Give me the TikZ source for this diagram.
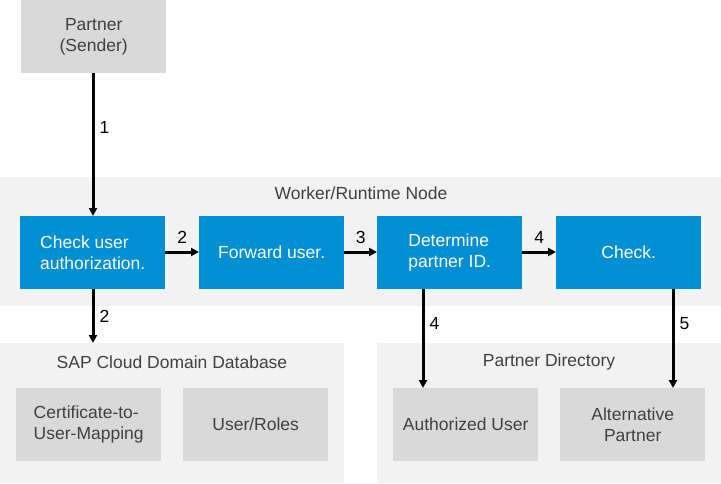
\documentclass[tikz,border=0pt]{standalone}
\usepackage{fontspec}
\setmainfont{Liberation Sans}
\usetikzlibrary{arrows.meta}
\definecolor{sapblue}{HTML}{008FD3}
\definecolor{boxgray}{HTML}{D9D9D9}
\definecolor{panelgray}{HTML}{F2F2F2}
\definecolor{txtgray}{HTML}{404040}
\begin{document}
\begin{tikzpicture}[x=1pt,y=-1pt,
  panel/.style={fill=panelgray,draw=none,inner sep=0pt,anchor=north west},
  graybox/.style={fill=boxgray,draw=none,minimum width=145pt,minimum height=73pt,inner sep=0pt,anchor=north west,text=txtgray,font=\fontsize{17.5}{21.5}\selectfont,align=center},
  bluebox/.style={fill=sapblue,draw=none,minimum width=145pt,minimum height=73pt,inner sep=0pt,anchor=north west,text=white,font=\fontsize{17.5}{21.5}\selectfont},
  title/.style={text=txtgray,font=\fontsize{17.5}{21.5}\selectfont},
  conn/.style={line width=3pt,-{Triangle[length=8pt,width=8pt]}},
  lbl/.style={font=\fontsize{17.5}{20}\selectfont,text=black,inner sep=0pt}
]
\useasboundingbox (0,0) rectangle (721,483);
% panels
\node[panel,minimum width=721pt,minimum height=129pt] (worker) at (0,177) {};
\node[panel,minimum width=344pt,minimum height=140pt] (sapdb) at (0,343) {};
\node[panel,minimum width=344pt,minimum height=140pt] (pdir) at (377,343) {};
\node[title] (workerT) at (361,193) {Worker/Runtime Node};
\node[title] (sapdbT) at (172,362) {SAP Cloud Domain Database};
\node[title] (pdirT) at (549,362) {Partner Directory};
% boxes
\node[graybox] (partner) at (21,0) {Partner\\(Sender)};
\node[bluebox,align=left] (check) at (20,216) {Check user\\authorization.};
\node[bluebox] (forward) at (199,216) {Forward user.};
\node[bluebox,align=left] (determine) at (377,216) {Determine\\partner ID.};
\node[bluebox] (checkB) at (556,216) {Check.};
\node[graybox,align=left] (cert) at (16,388) {Certificate-to-\\User-Mapping};
\node[graybox] (roles) at (183,388) {User/Roles};
\node[graybox] (auth) at (393,388) {Authorized User};
\node[graybox] (alt) at (560,388) {Alternative\\Partner};
% connectors
\draw[conn] (partner.south -| 93,0) -- (check.north -| 93,0) node[lbl,pos=0.38,right=5pt] {1};
\draw[conn] (check.east |- 0,252) -- (forward.west |- 0,252) node[lbl,midway,above=7pt] {2};
\draw[conn] (forward.east |- 0,252) -- (determine.west |- 0,252) node[lbl,midway,above=7pt] {3};
\draw[conn] (determine.east |- 0,252) -- (checkB.west |- 0,252) node[lbl,midway,above=7pt] {4};
\draw[conn] (check.south -| 93,0) -- (sapdb.north -| 93,0) node[lbl,midway,right=5pt] {2};
\draw[conn] (determine.south -| 423,0) -- (auth.north -| 423,0) node[lbl,pos=0.35,right=5pt] {4};
\draw[conn] (checkB.south -| 673,0) -- (alt.north -| 673,0) node[lbl,pos=0.35,right=5pt] {5};
\end{tikzpicture}
\end{document}
